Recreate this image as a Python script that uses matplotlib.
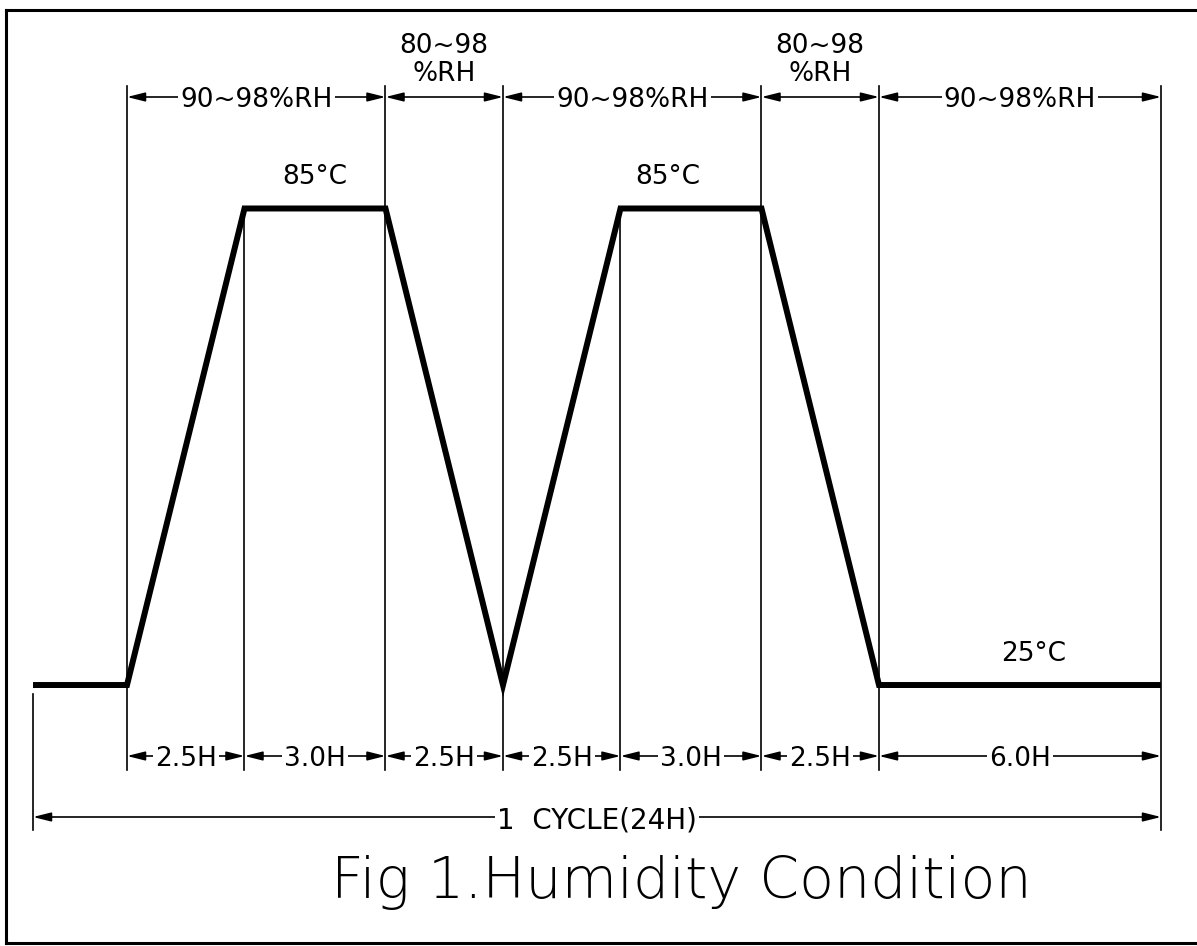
import matplotlib
matplotlib.use('Agg')
import matplotlib.pyplot as plt
from matplotlib.lines import Line2D

# temperature profile of one cycle (hours, deg C)
hours = [-2, 0, 2.5, 5.5, 8, 10.5, 13.5, 16, 22]
temps = [25, 25, 85, 85, 25, 85, 85, 25, 25]

# humidity bands along the top
rh_edges = [0, 5.5, 8, 13.5, 16, 22]
rh_labels = ['90~98%RH', '80~98\n%RH', '90~98%RH', '80~98\n%RH', '90~98%RH']

# step durations along the bottom
step_edges = [0, 2.5, 5.5, 8, 10.5, 13.5, 16, 22]
step_labels = ['2.5H', '3.0H', '2.5H', '2.5H', '3.0H', '2.5H', '6.0H']

cycle_edges = [-2, 22]
cycle_label = '1  CYCLE(24H)'

temp_label_x = [4.0, 11.5, 19.3]
temp_label_y = [85, 85, 25]
temp_label_txt = ['85°C', '85°C', '25°C']

title = 'Fig 1.Humidity Condition'

W, H = 1197, 946
fig = plt.figure(figsize=(W / 100, H / 100), dpi=100)
ax = fig.add_axes([0, 0, 1, 1])
ylim = (-7.86, 111.25)
ax.set_xlim(-2.702, 22.766)
ax.set_ylim(*ylim)
ax.axis('off')

trans = ax.get_xaxis_transform()


def fy(px):
    # vertical layout position given as pixel row of the figure
    return 1 - px / H


def frac(t):
    return (t - ylim[0]) / (ylim[1] - ylim[0])


# temperature curve
ax.plot(hours, temps, color='black', lw=4.3, solid_joinstyle='miter',
        solid_capstyle='butt', zorder=3)

# extension lines
for t in sorted(set(rh_edges + step_edges + cycle_edges)):
    if t in rh_edges:
        top = fy(86)
    elif t in step_edges:
        top = frac(85)
    else:
        top = frac(25) - 0.009
    bottom = fy(830) if t in cycle_edges else fy(770)
    ax.plot([t, t], [bottom, top], transform=trans, color='black', lw=1.2)

arrow = dict(arrowstyle='<|-|>,head_length=0.6,head_width=0.15',
             mutation_scale=18, lw=1.2, color='black', shrinkA=0, shrinkB=0)
font = dict(fontsize=19, family='DejaVu Sans')


def dim(x0, x1, y, label, size=19):
    ax.annotate('', xy=(x1, y), xytext=(x0, y), xycoords=trans,
                textcoords=trans, arrowprops=arrow)
    if '\n' in label:
        ax.text((x0 + x1) / 2, y + 0.011, label, transform=trans,
                ha='center', va='bottom', linespacing=1.1,
                fontsize=size, family='DejaVu Sans')
    else:
        ax.text((x0 + x1) / 2, y, label, transform=trans, ha='center',
                va='center_baseline', fontsize=size, family='DejaVu Sans',
                bbox=dict(fc='white', ec='none', pad=1.5))


for i, lab in enumerate(rh_labels):
    dim(rh_edges[i], rh_edges[i + 1], fy(97), lab)
for i, lab in enumerate(step_labels):
    dim(step_edges[i], step_edges[i + 1], fy(756), lab)
dim(cycle_edges[0], cycle_edges[1], fy(817), cycle_label, size=20)

for x, y, s in zip(temp_label_x, temp_label_y, temp_label_txt):
    ax.annotate(s, (x, y), xytext=(0, 13), textcoords='offset points',
                ha='center', va='bottom', **font)

ax.text(11.8, fy(882), title, transform=trans, ha='center', va='center',
        fontsize=41, fontweight='light', family='DejaVu Sans')

# drawing frame
fw = 2.2
fig.add_artist(Line2D([6 / W, 6 / W], [fy(10), fy(943)], color='black', lw=fw))
fig.add_artist(Line2D([6 / W, 1], [fy(10), fy(10)], color='black', lw=fw))
fig.add_artist(Line2D([6 / W, 1], [fy(943), fy(943)], color='black', lw=fw))

fig.savefig('out.png', dpi=100, facecolor='white')
